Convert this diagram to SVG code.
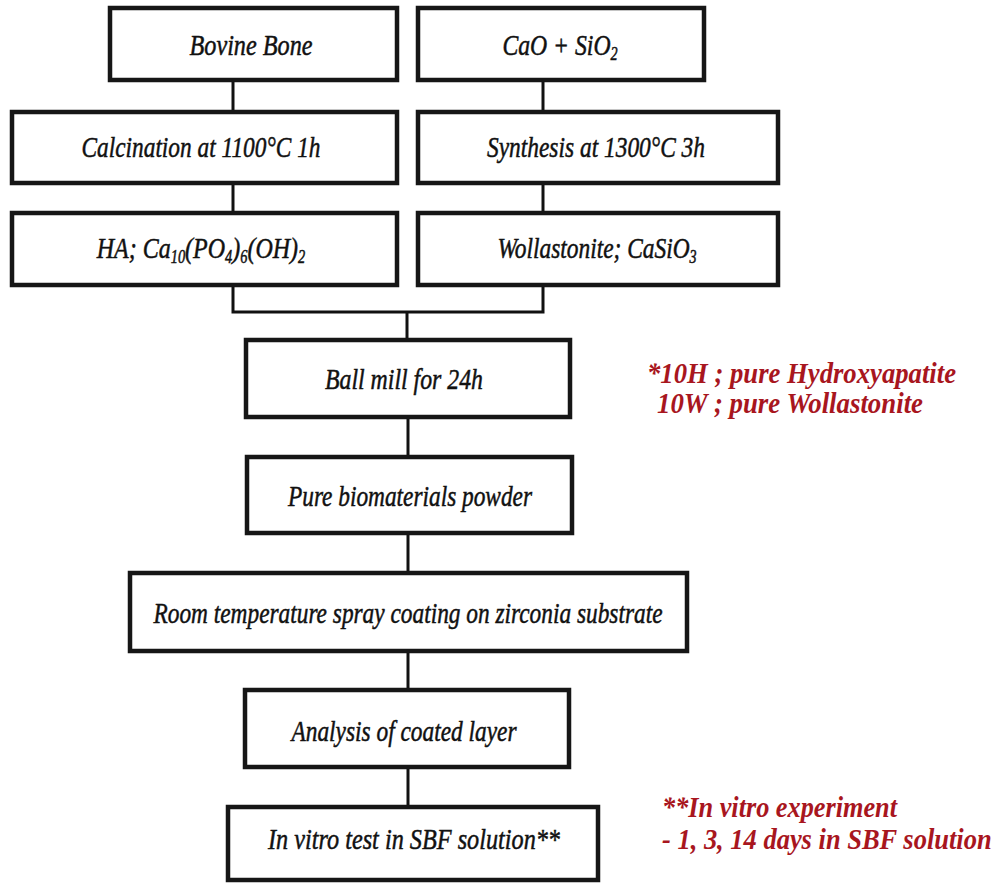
<svg xmlns="http://www.w3.org/2000/svg" width="1004" height="883" viewBox="0 0 1004 883">
<style>
.box{fill:#fff;stroke:#161616;stroke-width:4.5}
.t{font-family:"Liberation Serif","Times New Roman",serif;font-style:italic;font-size:30px;fill:#111;stroke:#111;stroke-width:0.5;text-anchor:middle}
.r{font-family:"Liberation Serif","Times New Roman",serif;font-style:italic;font-weight:bold;font-size:29px;fill:#a8161e}
.sub{font-size:18px}
.con{fill:none;stroke:#111;stroke-width:3}
</style>
<rect width="1004" height="883" fill="#fff"/>
<g id="connectors">
<line class="con" x1="233" y1="80" x2="233" y2="112"/>
<line class="con" x1="233" y1="183" x2="233" y2="213"/>
<line class="con" x1="543" y1="80" x2="543" y2="112"/>
<line class="con" x1="543" y1="183" x2="543" y2="213"/>
<polyline class="con" points="233,285 233,312 543,312 543,285"/>
<line class="con" x1="407" y1="312" x2="407" y2="340"/>
<line class="con" x1="408" y1="417" x2="408" y2="457"/>
<line class="con" x1="408" y1="533" x2="408" y2="573"/>
<line class="con" x1="408" y1="651" x2="408" y2="690"/>
<line class="con" x1="408" y1="767" x2="408" y2="807"/>
</g>
<g id="bovine"><rect class="box" x="110" y="8" width="287" height="72"/><text class="t" x="251" y="55" textLength="123" lengthAdjust="spacingAndGlyphs">Bovine Bone</text></g>
<g id="calcination"><rect class="box" x="12" y="112" width="385" height="71"/><text class="t" x="201" y="157" textLength="239" lengthAdjust="spacingAndGlyphs">Calcination at 1100°C 1h</text></g>
<g id="ha"><rect class="box" x="12" y="213" width="385" height="72"/><text class="t" transform="translate(201,258) scale(0.8,1)">HA; Ca<tspan class="sub" dy="5">10</tspan><tspan dy="-5">(PO</tspan><tspan class="sub" dy="5">4</tspan><tspan dy="-5">)</tspan><tspan class="sub" dy="5">6</tspan><tspan dy="-5">(OH)</tspan><tspan class="sub" dy="5">2</tspan></text></g>
<g id="cao"><rect class="box" x="418" y="8" width="286" height="72"/><text class="t" transform="translate(560,55) scale(0.79,1)">CaO + SiO<tspan class="sub" dy="5">2</tspan></text></g>
<g id="synthesis"><rect class="box" x="418" y="112" width="360" height="71"/><text class="t" x="596" y="157" textLength="218" lengthAdjust="spacingAndGlyphs">Synthesis at 1300°C 3h</text></g>
<g id="wollastonite"><rect class="box" x="418" y="213" width="360" height="72"/><text class="t" transform="translate(597,258) scale(0.78,1)">Wollastonite; CaSiO<tspan class="sub" dy="5">3</tspan></text></g>
<g id="ballmill"><rect class="box" x="246" y="340" width="324" height="77"/><text class="t" x="404" y="389" textLength="158" lengthAdjust="spacingAndGlyphs">Ball mill for 24h</text></g>
<g id="powder"><rect class="box" x="247" y="457" width="325" height="76"/><text class="t" x="410" y="506" textLength="244" lengthAdjust="spacingAndGlyphs">Pure biomaterials powder</text></g>
<g id="spray"><rect class="box" x="130" y="573" width="557" height="78"/><text class="t" x="408" y="623" textLength="509" lengthAdjust="spacingAndGlyphs">Room temperature  spray  coating on zirconia substrate</text></g>
<g id="analysis"><rect class="box" x="245" y="690" width="324" height="77"/><text class="t" x="404" y="741" textLength="225" lengthAdjust="spacingAndGlyphs">Analysis of coated layer</text></g>
<g id="invitro"><rect class="box" x="228" y="807" width="370" height="73"/><text class="t" x="414" y="849" textLength="292" lengthAdjust="spacingAndGlyphs">In vitro test in SBF solution**</text></g>
<g id="note1"><text class="r" x="647" y="383" textLength="309" lengthAdjust="spacingAndGlyphs">*10H   ; pure Hydroxyapatite</text><text class="r" x="657" y="413" textLength="266" lengthAdjust="spacingAndGlyphs">10W  ; pure Wollastonite</text></g>
<g id="note2"><text class="r" x="662" y="817" textLength="235" lengthAdjust="spacingAndGlyphs">**In  vitro  experiment</text><text class="r" transform="translate(662,849) scale(0.8,1)" textLength="412" lengthAdjust="spacingAndGlyphs">- 1, 3,  14  days in SBF solution</text></g>
</svg>
